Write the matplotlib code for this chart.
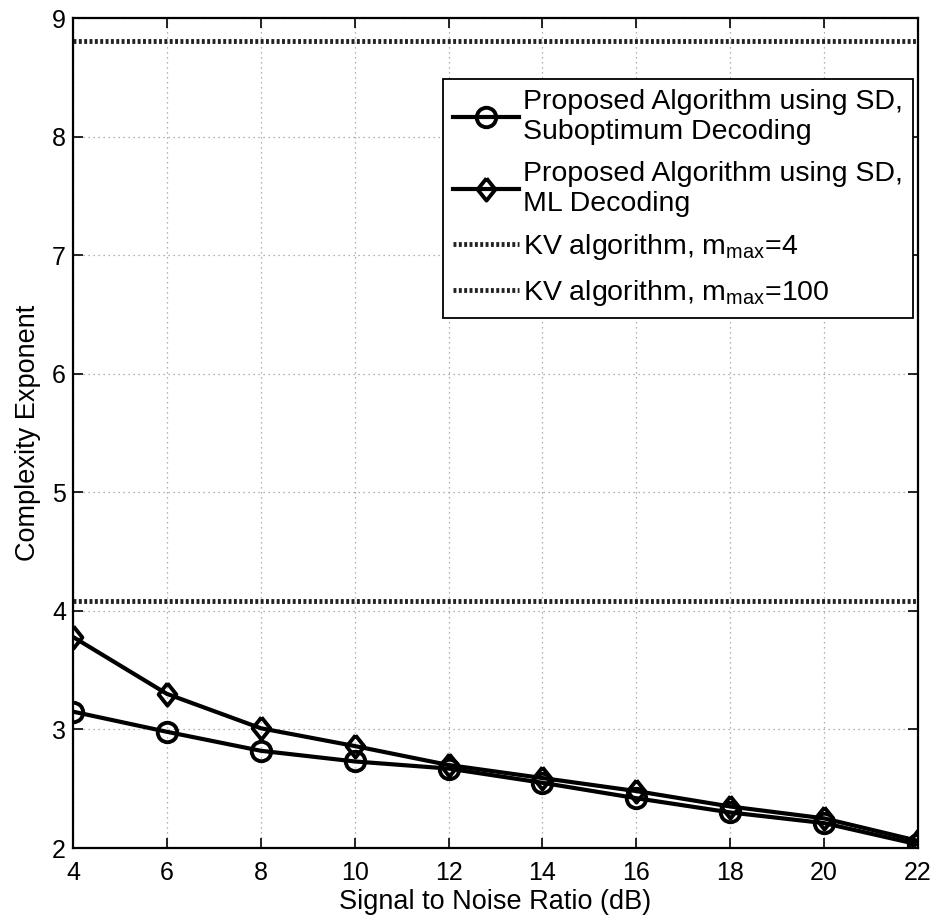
import matplotlib
matplotlib.use("Agg")
import matplotlib.pyplot as plt

plt.rcParams['font.family'] = ['Liberation Sans', 'DejaVu Sans']
plt.rcParams['mathtext.fontset'] = 'custom'
plt.rcParams['mathtext.rm'] = 'Liberation Sans'
plt.rcParams['mathtext.it'] = 'Liberation Sans'

snr = [4, 6, 8, 10, 12, 14, 16, 18, 20, 22]
subopt = [3.15, 2.98, 2.82, 2.73, 2.67, 2.55, 2.42, 2.30, 2.21, 2.03]
ml = [3.78, 3.30, 3.01, 2.86, 2.70, 2.59, 2.48, 2.35, 2.25, 2.06]
kv4 = 4.08
kv100 = 8.81

labels = ["Proposed Algorithm using SD,\nSuboptimum Decoding",
          "Proposed Algorithm using SD,\nML Decoding",
          "KV algorithm, m$_{\\mathrm{max}}$=4",
          "KV algorithm, m$_{\\mathrm{max}}$=100"]

diamond = [(0, 1), (0.8, 0), (0, -1), (-0.8, 0), (0, 1)]

fig = plt.figure(figsize=(9.38, 9.23), dpi=100)
ax = fig.add_axes([73/938, 75/923, 845/938, 830/923])

ax.plot(snr, subopt, '-o', color='black', lw=3, ms=14, mfc='none', mew=2.8, label=labels[0])
ax.plot(snr, ml, '-', marker=diamond, color='black', lw=3, ms=16, mfc='none', mew=2.8, label=labels[1])
ax.plot([snr[0], snr[-1]], [kv4, kv4], color='#222222', lw=3.5, ls=(0, (0.6, 0.5)), label=labels[2])
ax.plot([snr[0], snr[-1]], [kv100, kv100], color='#222222', lw=3.5, ls=(0, (0.6, 0.5)), label=labels[3])

ax.set_xlim(4, 22)
ax.set_ylim(2, 9)
ax.set_xticks(range(4, 23, 2))
ax.set_yticks(range(2, 10))
ax.grid(True, linestyle=(0, (1, 3)), color='#999999', lw=0.9)
ax.tick_params(direction='in', top=True, right=True, labelsize=18, length=7, width=1.2)
ax.tick_params(axis='x', pad=9)
ax.tick_params(axis='y', pad=5)
for s in ax.spines.values():
    s.set_linewidth(1.6)
ax.set_xlabel("Signal to Noise Ratio (dB)", fontsize=19.5, labelpad=3)
ax.set_ylabel("Complexity Exponent", fontsize=19.5, labelpad=8)

leg = ax.legend(loc='upper right', bbox_to_anchor=(0.994, 0.9265), fontsize=20.5,
                fancybox=False, edgecolor='black', framealpha=1,
                handlelength=2.3, borderpad=0.35, labelspacing=0.55, handletextpad=0.15,
                borderaxespad=0)
leg.get_frame().set_linewidth(1.3)

fig.savefig("out.png", dpi=100)
